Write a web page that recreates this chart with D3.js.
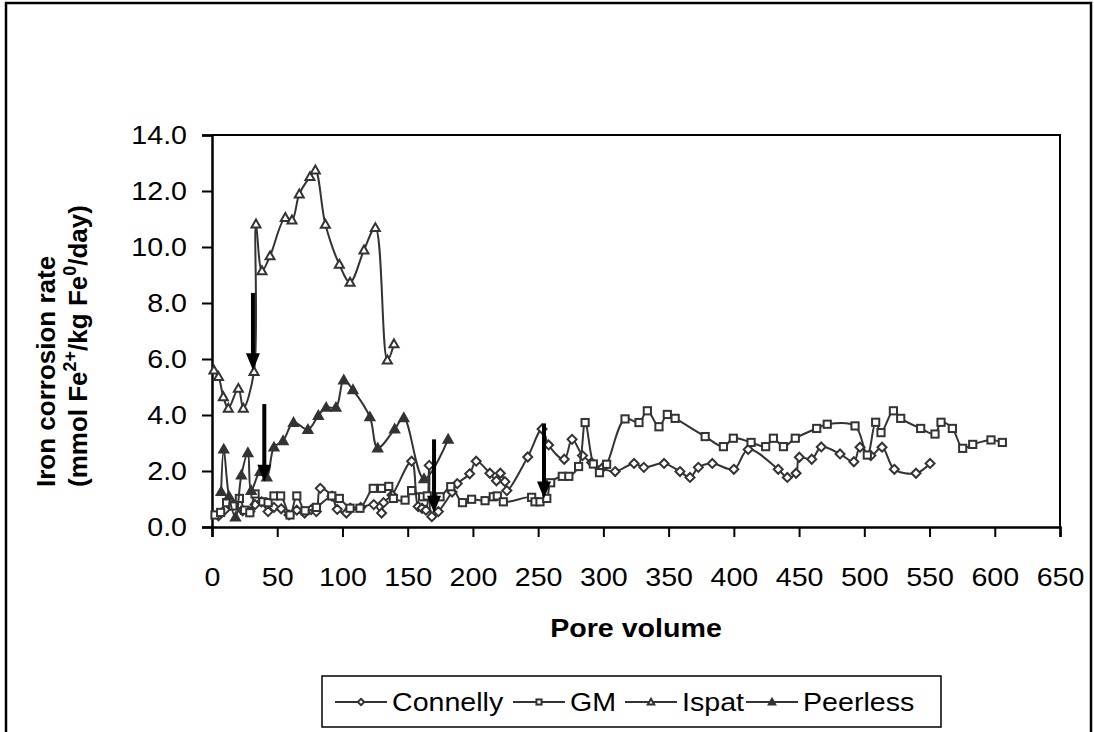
<!DOCTYPE html>
<html>
<head>
<meta charset="utf-8">
<script src="https://cdn.jsdelivr.net/npm/d3@7"></script>
<style>
  html, body { margin: 0; padding: 0; background: #fff; }
  svg { display: block; font-family: "Liberation Sans", Arial, sans-serif; }
</style>
</head>
<body>
<svg id="chart" width="1094" height="732"></svg>
<script>
// Iron corrosion rate (mmol Fe2+/kg Fe0/day) against pore volume, four iron sources.
const connelly = [
  [5,0.40],[10,0.62],[16.5,0.80],[23.5,0.58],[29,0.55],[33,0.80],[38,0.90],[43,0.55],
  [47.5,0.70],[53,0.65],[59,0.43],[65,0.60],[71,0.50],[76,0.62],[80,0.55],[83,1.38],
  [92,1.10],[96,0.63],[103,0.50],[106,0.67],[114,0.70],[124,0.80],[130,0.50],[131.5,0.87],
  [138,1.14],[153,2.35],[158,0.73],[161,0.67],[164,0.60],[166.5,2.20],[168.5,0.37],[173.5,0.55],
  [184,1.25],[188,1.55],[197.5,1.90],[202.5,2.35],[213,1.92],[218,1.65],[221,1.92],[224.5,1.62],
  [226,1.30],[242,2.50],[253,3.50],[258,2.93],[270,2.42],[276,3.13],[284,2.55],[291,2.30],
  [299,2.10],[309,1.98],[323.5,2.27],[331,2.13],[346.5,2.27],[358.7,1.98],[366.4,1.77],[372.8,2.13],
  [383.5,2.27],[400,2.06],[411,2.77],[434,2.06],[441,1.77],[447.7,1.92],[450.2,2.49],[459.7,2.42],
  [467,2.86],[481.4,2.61],[492,2.33],[496.7,2.85],[505,2.55],[513.6,2.85],[523,2.06],[539.6,1.92],
  [550.4,2.27]
];
const gm = [
  [2.3,0.43],[6.6,0.52],[11.2,0.87],[16,0.75],[21,1.02],[25,0.60],[29,0.51],[33,1.18],
  [39,0.90],[43,0.87],[47.5,1.11],[52.6,1.11],[59.8,0.43],[65,1.11],[71.3,0.58],[80,0.70],
  [91.8,1.11],[97.6,1.02],[105.8,0.67],[113.4,0.67],[123.6,1.38],[130,1.38],[135.5,1.45],[139,1.02],
  [148,0.96],[153,1.30],[161.5,1.08],[165,1.11],[174.8,1.08],[183,1.44],[192,0.87],[199,0.99],
  [209.3,0.94],[215.6,1.08],[218.7,1.11],[223.3,0.90],[245,1.06],[247.6,0.90],[251.4,0.90],[256.6,1.02],
  [259.6,1.58],[268.5,1.81],[273.5,1.81],[281,2.16],[286,3.73],[292.3,2.25],[297,1.94],[302.5,2.24],
  [316.6,3.86],[327.3,3.73],[333.7,4.15],[342.6,3.58],[349,4.02],[355,3.88],[378,3.23],[392,2.87],
  [399.6,3.17],[413.2,3.02],[424.4,2.87],[430.3,3.17],[438,2.87],[447.1,3.17],[463.5,3.52],[471.6,3.67],
  [492.9,3.61],[502.3,2.57],[508.7,3.74],[512.8,3.37],[522.3,4.15],[527.9,3.88],[543.2,3.52],[554.2,3.32],
  [558.8,3.74],[567.5,3.52],[575.4,2.81],[583.1,2.95],[597.1,3.11],[605.8,3.02]
];
const ispat = [
  [1.5,5.60],[5,5.37],[8.7,4.65],[12.5,4.24],[20.2,4.95],[24,4.24],[32.2,5.55],[33.7,10.82],
  [38.3,9.15],[44.5,9.68],[56.2,11.05],[61.3,10.96],[66.9,11.89],[75.1,12.51],[79.2,12.75],[86.9,10.81],
  [97.6,9.38],[105.8,8.74],[116.5,9.89],[125.2,10.69],[134.4,5.96],[139.5,6.54]
];
const peerless = [
  [7,1.26],[9,2.78],[13,1.10],[18,0.35],[22.5,1.85],[27.5,2.65],[30,1.30],[37,1.98],
  [42,1.78],[47.5,2.85],[54.5,3.08],[62.5,3.73],[73.5,3.48],[81.5,3.98],[87.5,4.27],[95,4.27],
  [101,5.25],[108,4.90],[121,3.93],[127,2.82],[140,3.50],[147,3.90],[162.5,1.72],[181,3.13]
];
// Event arrows: [pore volume, top of shaft, tip]
const arrows = [[31.4,8.36,5.6],[40.1,4.39,1.62],[170.2,3.13,0.51],[254.5,3.70,1.02]];

const xTicks = [0,50,100,150,200,250,300,350,400,450,500,550,600,650];
const yTicks = [0,2,4,6,8,10,12,14];
const seriesNames = ["Connelly","GM","Ispat","Peerless"];
const seriesData = [connelly, gm, ispat, peerless];
const seriesMarkers = ["diamond","square","triangle","triangleFilled"];

const ink = "#333";
const fs = "26px";
const wide = "scale(1.1,1)";   // horizontal text is drawn slightly stretched
const svg = d3.select("#chart");
svg.append("rect").attr("width",1094).attr("height",732).attr("fill","#fff");
// outer chart frame
svg.append("rect").attr("x",6).attr("y",3).attr("width",1085).attr("height",760)
  .attr("fill","none").attr("stroke","#000").attr("stroke-width",2.5);

const x = d3.scaleLinear().domain([0,650]).range([212,1060]);
const y = d3.scaleLinear().domain([0,14]).range([527,135]);

// plot area frame (top and right)
svg.append("path")
  .attr("d",`M${x(0)},${y(14)}H${x(650)}V${y(0)}`)
  .attr("fill","none").attr("stroke","#000").attr("stroke-width",2);

const gx = svg.append("g").attr("transform",`translate(0,${y(0)})`)
  .call(d3.axisBottom(x).tickValues(xTicks).tickSize(10).tickPadding(31).tickFormat(d3.format("d")));
const gy = svg.append("g").attr("transform",`translate(${x(0)},0)`)
  .call(d3.axisLeft(y).tickValues(yTicks).tickSize(10).tickPadding(12.7).tickFormat(d3.format(".1f")));
[gx, gy].forEach(g => {
  g.select(".domain").attr("stroke","#000").attr("stroke-width",2.5);
  g.selectAll(".tick line").attr("stroke","#000").attr("stroke-width",2);
  g.selectAll(".tick text").attr("fill","#000").attr("transform",wide)
    .style("font-family","'Liberation Sans', Arial, sans-serif").style("font-size",fs);
});

// axis titles
svg.append("g").attr("transform","translate(636,637)")
  .append("text").attr("transform",wide).attr("text-anchor","middle")
  .style("font-size",fs).style("font-weight","bold").text("Pore volume");

const yt = svg.append("text").attr("transform","rotate(-90)")
  .style("font-size",fs).style("font-weight","bold");
yt.append("tspan").attr("x",-487).attr("y",55).text("Iron corrosion rate");
const l2 = yt.append("tspan").attr("x",-487).attr("y",87);
l2.append("tspan").text("(mmol Fe");
l2.append("tspan").attr("dy",-11).style("font-size","18px").text("2+");
l2.append("tspan").attr("dy",11).text("/kg Fe");
l2.append("tspan").attr("dy",-11).style("font-size","18px").text("0");
l2.append("tspan").attr("dy",11).text("/day)");

// marker drawing
function drawMarker(sel, type, s) {
  if (type === "diamond") {
    sel.append("path").attr("d",`M0,${-s}L${s},0L0,${s}L${-s},0Z`)
      .attr("fill","#fff").attr("stroke",ink).attr("stroke-width",2);
  } else if (type === "square") {
    const h = s*0.8;
    sel.append("rect").attr("x",-h).attr("y",-h).attr("width",2*h).attr("height",2*h)
      .attr("fill","#fff").attr("stroke",ink).attr("stroke-width",2);
  } else {
    const h = s*1.0;
    sel.append("path").attr("d",`M0,${-h}L${h},${h*0.75}L${-h},${h*0.75}Z`)
      .attr("fill", type === "triangleFilled" ? ink : "#fff")
      .attr("stroke",ink).attr("stroke-width",2);
  }
}

const line = d3.line().x(d => x(d[0])).y(d => y(d[1])).curve(d3.curveCatmullRom.alpha(0.5));

seriesData.forEach((data, i) => {
  const g = svg.append("g");
  g.append("path").datum(data).attr("d",line)
    .attr("fill","none").attr("stroke",ink).attr("stroke-width",2);
  g.selectAll("g.pt").data(data).join("g").attr("class","pt")
    .attr("transform",d => `translate(${x(d[0])},${y(d[1])})`)
    .each(function() { drawMarker(d3.select(this), seriesMarkers[i], 4.5); });
});

// arrows
arrows.forEach(a => {
  const ax = x(a[0]), top = y(a[1]), tip = y(a[2]);
  svg.append("line").attr("x1",ax).attr("x2",ax).attr("y1",top).attr("y2",tip-14)
    .attr("stroke","#000").attr("stroke-width",4);
  svg.append("path").attr("d",`M${ax},${tip}L${ax-7},${tip-17}L${ax+7},${tip-17}Z`).attr("fill","#000");
});

// legend
const lg = svg.append("g");
lg.append("rect").attr("x",322).attr("y",676).attr("width",619).attr("height",51)
  .attr("fill","#fff").attr("stroke","#000").attr("stroke-width",1.5);
const legendX = [335, 513, 625, 746];
seriesNames.forEach((name, i) => {
  const lx = legendX[i], ly = 702;
  lg.append("line").attr("x1",lx).attr("x2",lx+52).attr("y1",ly).attr("y2",ly)
    .attr("stroke",ink).attr("stroke-width",2);
  const m = lg.append("g").attr("transform",`translate(${lx+26},${ly})`);
  drawMarker(m, seriesMarkers[i], 3.2);
  lg.append("g").attr("transform",`translate(${lx+57},${ly+9.3})`)
    .append("text").attr("transform",wide).style("font-size",fs).text(name);
});
</script>
</body>
</html>
